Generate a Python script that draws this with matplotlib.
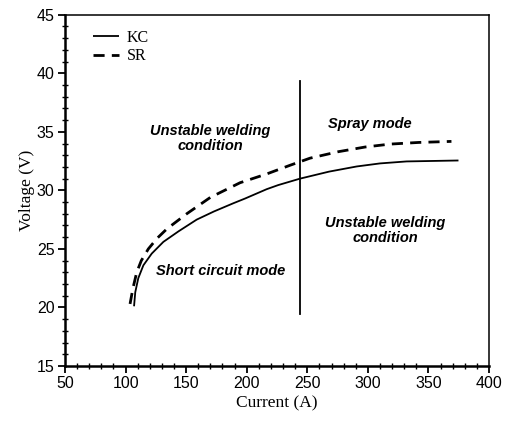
import matplotlib
matplotlib.use("Agg")
import matplotlib.pyplot as plt
from matplotlib.ticker import MultipleLocator

# Data
kc_current = [107.0, 108.0, 110.5, 114.7, 121.6, 131.2, 143.7, 158.7, 173.0, 189.0,
              198.6, 216.5, 226.0, 244.0, 268.0, 290.8, 310.0, 332.0, 374.8]
kc_voltage = [20.1, 21.3, 22.5, 23.6, 24.6, 25.6, 26.5, 27.5, 28.2, 28.9,
              29.3, 30.1, 30.45, 31.0, 31.6, 32.04, 32.3, 32.47, 32.55]

sr_current = [103.7, 106.0, 109.2, 113.0, 118.8, 126.0, 134.0, 150.5, 170.0, 194.5,
              216.5, 236.0, 252.3, 275.6, 297.7, 318.4, 341.8, 369.0]
sr_voltage = [20.3, 21.6, 23.0, 24.0, 25.0, 25.9, 26.7, 28.0, 29.4, 30.65,
              31.4, 32.15, 32.75, 33.3, 33.7, 33.95, 34.09, 34.18]

boundary_current = [244, 244]
boundary_voltage = [19.4, 39.35]

region_labels = ["Unstable welding\ncondition", "Spray mode",
                 "Unstable welding\ncondition", "Short circuit mode"]
region_x = [169.7, 301.9, 314.2, 178.8]
region_y = [34.4, 35.68, 26.55, 23.1]

x_ticks = [50, 100, 150, 200, 250, 300, 350, 400]
y_ticks = [15, 20, 25, 30, 35, 40, 45]

fig = plt.figure(figsize=(5.06, 4.23), dpi=100)
ax = fig.add_axes([65/506, 1-366/423, (489-65)/506, (366-14.7)/423])

ax.plot(kc_current, kc_voltage, color="black", lw=1.3, label="KC", solid_capstyle="butt")
ax.plot(sr_current, sr_voltage, color="black", lw=2.0, dashes=(4, 2.6), label="SR",
        dash_capstyle="butt")
ax.plot(boundary_current, boundary_voltage, color="black", lw=1.3)

for t, x, y in zip(region_labels, region_x, region_y):
    ax.text(x, y, t, ha="center", va="center", fontsize=10.5, fontweight="bold",
            fontstyle="italic", family="Liberation Sans", linespacing=1.1)

ax.set_xlim(50, 400)
ax.set_ylim(15, 45)
ax.set_xticks(x_ticks)
ax.set_yticks(y_ticks)
ax.xaxis.set_minor_locator(MultipleLocator(10))
ax.yaxis.set_minor_locator(MultipleLocator(1))
ax.tick_params(which="major", direction="out", length=5, width=1.3, labelsize=11.5, pad=2.5)
ax.tick_params(which="minor", direction="inout", length=4, width=1.0)
for lab in ax.get_xticklabels() + ax.get_yticklabels():
    lab.set_family("Liberation Sans")

for s in ["left", "bottom"]:
    ax.spines[s].set_linewidth(1.8)
for s in ["top", "right"]:
    ax.spines[s].set_linewidth(1.1)

ax.set_xlabel("Current (A)", family="Liberation Serif", fontsize=12.5, labelpad=3)
ax.set_ylabel("Voltage (V)", family="Liberation Serif", fontsize=12.5, labelpad=1)

leg = ax.legend(loc="upper left", bbox_to_anchor=(0.05, 0.975), frameon=False,
                prop={"family": "Liberation Serif", "size": 11.5}, handlelength=1.65,
                handletextpad=0.5, labelspacing=0.15, borderaxespad=0)

fig.savefig("out.png", dpi=100)
